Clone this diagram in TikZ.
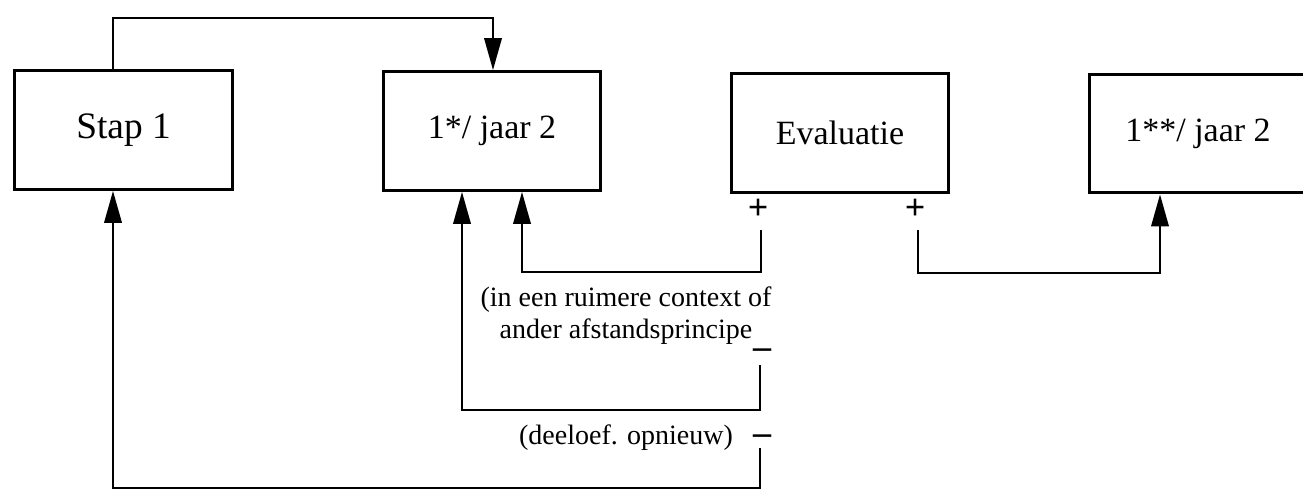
\documentclass[tikz,border=0pt]{standalone}
\usepackage{fontspec}
\setmainfont{Liberation Serif}
\usetikzlibrary{arrows.meta}
\begin{document}
\begin{tikzpicture}[x=0.75pt,y=0.75pt,
  box/.style={draw, line width=2.3pt, minimum width=163pt, minimum height=89pt, inner sep=0pt,
    font=\fontsize{25.5}{28}\selectfont},
  arr/.style={line width=1.9pt, -{Triangle[length=24pt,width=13pt]}},
  lbl/.style={inner sep=0pt, align=center, font=\fontsize{21}{24}\selectfont},
  sign/.style={inner sep=0pt, font=\bfseries\fontsize{27}{28}\selectfont}]
\clip (0,0) rectangle (1303,490);
% boxes
\node[box, font=\fontsize{28}{31}\selectfont] (s1) at (123.5,360) {Stap 1};
\node[box] (b2) at (492,359) {1*/ jaar 2};
\node[box] (ev) at (840,357) {Evaluatie};
\node[box] (b4) at (1198,356.5) {1**/ jaar 2};
% signs
\node[sign] (p1) at (758,281) {+};
\node[sign] (p2) at (915,281) {+};
\node[sign] (m1) at (762,136) {–};
\node[sign] (m2) at (762,50) {–};
% labels
\node[lbl] (t1) at (626,174) {(in een ruimere context of\\ander afstandsprincipe};
\node[lbl] (t2) at (626,52) {(deeloef. opnieuw)};
% column coordinates
\coordinate (xa) at (113,0);
\coordinate (xb) at (493,0);
\coordinate (xc) at (522,0);
\coordinate (xd) at (1160,0);
\coordinate (xe) at (462,0);
% free ends
\coordinate (e1) at (761,260);
\coordinate (e2) at (918,260);
\coordinate (e3) at (760,125);
\coordinate (e4) at (760,42);
% connectors
\draw[arr] (s1.north -| xa) -- ++(0,51) -| (b2.north -| xb);
\draw[arr] (e1) -- ++(0,-42) -| (b2.south -| xc);
\draw[arr] (e2) -- ++(0,-43) -| (b4.south -| xd);
\draw[arr] (e3) -- ++(0,-45) -| (b2.south -| xe);
\draw[arr] (e4) -- ++(0,-40) -| (s1.south -| xa);
\end{tikzpicture}
\end{document}
